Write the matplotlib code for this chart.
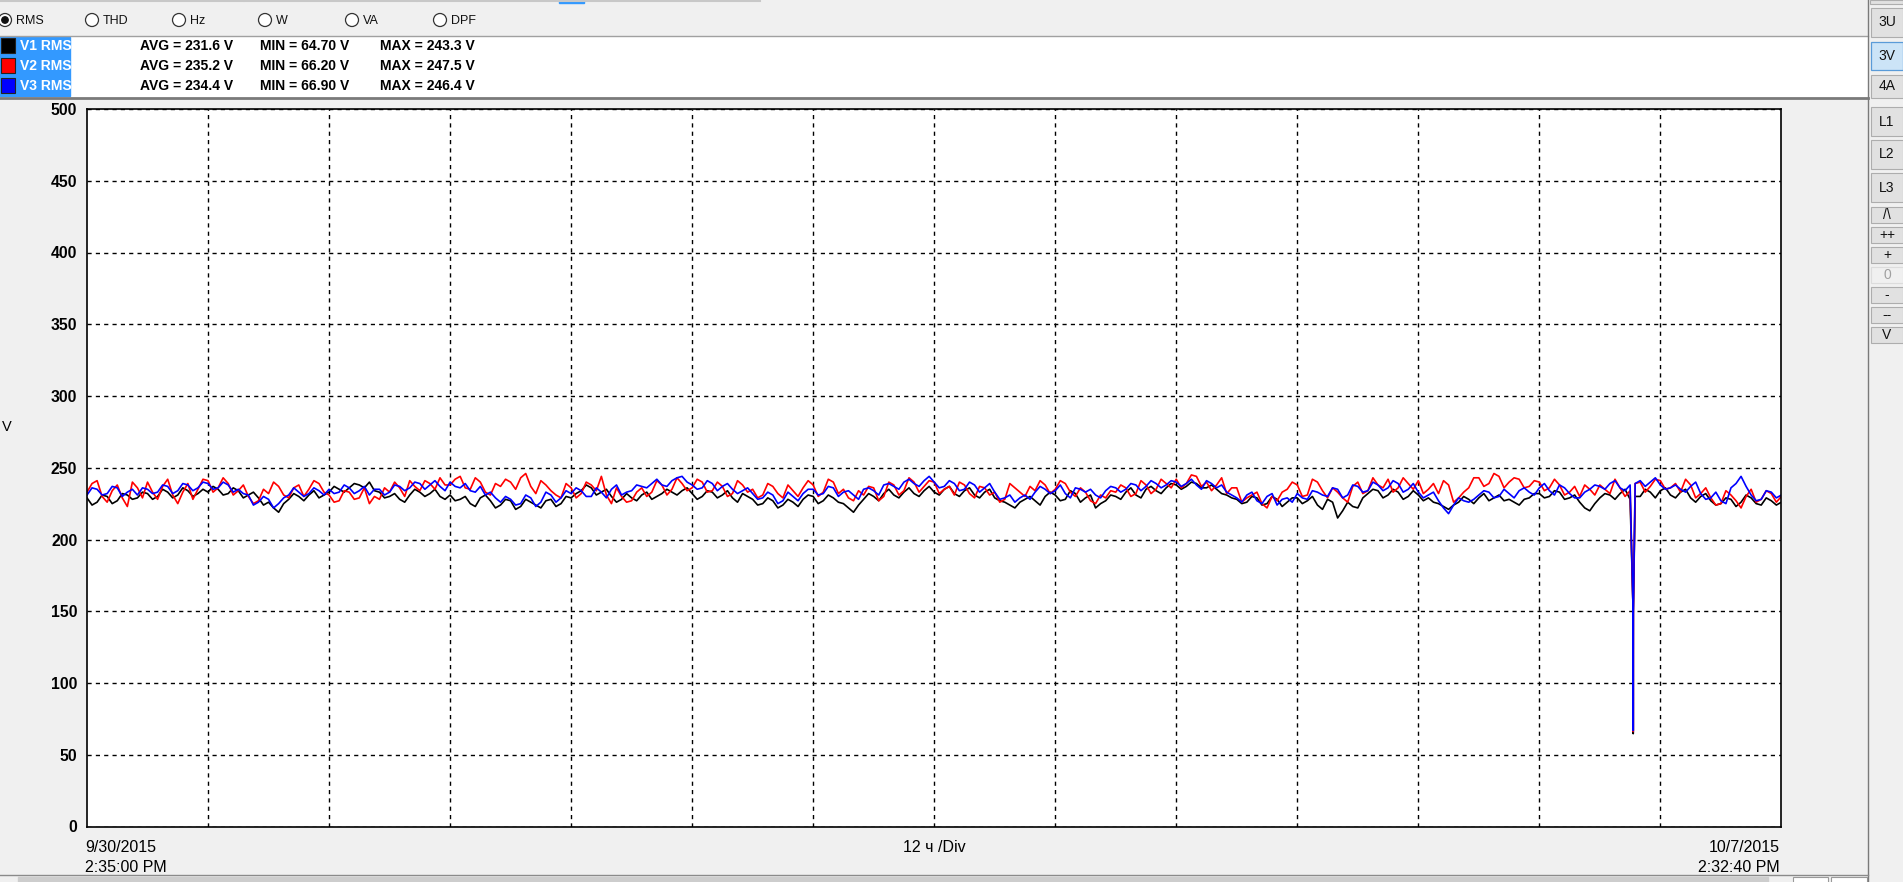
import matplotlib
matplotlib.use('Agg')
import matplotlib.pyplot as plt
import numpy as np
from matplotlib.patches import Rectangle, Circle

plt.rcParams['font.family'] = ['Liberation Sans', 'DejaVu Sans']

### Data ###
# samples every half hour, hours since 9/30/2015 2:35:00 PM
span_h = 167.961  # until 10/7/2015 2:32:40 PM

# values on the full hour
v1_rms = [229, 226, 230, 227, 231, 229, 232, 230, 233, 231, 234, 232,
          233, 235, 232, 234, 231, 229, 226, 219, 228, 230, 231, 229,
          233, 235, 236, 238, 240, 233, 230, 228, 231, 233, 232, 230,
          231, 228, 225, 229, 227, 224, 227, 223, 226, 222, 228, 225,
          229, 234, 236, 233, 230, 228, 229, 231, 228, 232, 233, 234,
          232, 230, 233, 231, 229, 232, 228, 225, 227, 224, 226, 228,
          230, 227, 229, 225, 219, 228, 230, 232, 231, 233, 232, 234,
          233, 235, 232, 234, 231, 233, 229, 226, 222, 228, 227, 230,
          231, 228, 232, 229, 222, 227, 230, 233, 231, 235, 234, 236,
          238, 237, 239, 236, 235, 231, 228, 226, 229, 225, 228, 226,
          229, 227, 224, 228, 215, 226, 222, 232, 234, 231, 233, 230,
          231, 229, 225, 221, 226, 228, 229, 227, 231, 228, 224, 229,
          232, 230, 233, 229, 226, 220, 229, 231, 232, 228, 230, 233,
          234, 231, 233, 229, 230, 227, 225, 228, 226, 229, 224, 227, 226]
# values on the half hour
v1_mid = [224, 231, 225, 232, 228, 233, 228, 235, 229, 236, 230, 235,
          237, 231, 236, 229, 233, 224, 222, 225, 232, 227, 234, 231,
          237, 233, 239, 236, 234, 229, 232, 226, 235, 230, 235, 228,
          227, 230, 223, 231, 222, 228, 221, 228, 224, 227, 223, 230,
          232, 238, 231, 235, 226, 232, 227, 233, 230, 235, 231, 236,
          228, 234, 229, 234, 226, 230, 224, 229, 222, 228, 223, 231,
          225, 231, 226, 222, 224, 232, 227, 235, 229, 236, 230, 237,
          231, 237, 230, 236, 229, 235, 227, 224, 226, 230, 224, 233,
          227, 234, 226, 231, 225, 231, 228, 236, 229, 237, 232, 239,
          235, 240, 236, 238, 232, 229, 225, 230, 224, 230, 223, 229,
          225, 230, 221, 226, 220, 223, 229, 235, 229, 235, 228, 234,
          227, 226, 223, 224, 230, 225, 232, 229, 227, 226, 228, 232,
          229, 234, 228, 231, 222, 225, 232, 228, 235, 230, 235, 229,
          236, 229, 235, 226, 232, 224, 229, 223, 231, 225, 229, 224]

v2_rms = [233, 241, 226, 238, 223, 236, 240, 228, 242, 225, 239, 235,
          241, 236, 239, 234, 230, 227, 232, 237, 229, 238, 235, 239,
          231, 227, 233, 229, 225, 228, 233, 236, 241, 234, 239, 243,
          238, 244, 235, 240, 231, 237, 240, 243, 237, 241, 234, 229,
          236, 232, 238, 244, 225, 230, 227, 236, 233, 238, 235, 239,
          236, 240, 234, 237, 232, 238, 235, 231, 237, 229, 234, 236,
          238, 233, 240, 235, 227, 231, 236, 230, 238, 234, 240, 237,
          240, 235, 231, 238, 229, 236, 233, 228, 236, 230, 234, 238,
          235, 239, 230, 233, 225, 229, 233, 236, 232, 238, 235, 239,
          242, 239, 244, 240, 238, 232, 236, 229, 233, 222, 227, 235,
          238, 231, 240, 229, 233, 226, 240, 234, 238, 242, 236, 239,
          241, 235, 232, 238, 229, 236, 243, 239, 244, 240, 242, 237,
          240, 236, 238, 233, 230, 235, 238, 232, 236, 234, 240, 237,
          241, 236, 233, 238, 232, 229, 225, 231, 222, 235, 228, 232, 230]
v2_mid = [239, 230, 234, 229, 240, 229, 233, 237, 231, 233, 228, 242,
          233, 243, 231, 238, 225, 235, 240, 231, 236, 230, 241, 233,
          226, 234, 228, 236, 230, 236, 240, 230, 237, 241, 235, 238,
          242, 236, 243, 233, 239, 242, 235, 246, 232, 238, 231, 239,
          229, 240, 234, 231, 236, 226, 233, 230, 241, 231, 243, 234,
          242, 233, 240, 230, 241, 233, 229, 239, 232, 238, 230, 241,
          230, 242, 232, 229, 234, 237, 227, 240, 231, 243, 233, 241,
          232, 237, 240, 232, 237, 231, 226, 239, 233, 237, 241, 232,
          241, 233, 236, 227, 231, 234, 238, 230, 241, 232, 242, 236,
          236, 245, 237, 234, 243, 236, 226, 231, 225, 230, 233, 240,
          230, 242, 234, 236, 229, 237, 232, 243, 236, 233, 243, 235,
          232, 239, 241, 226, 233, 243, 237, 246, 236, 243, 236, 241,
          234, 242, 231, 237, 238, 231, 235, 242, 230, 239, 233, 242,
          235, 239, 242, 229, 236, 224, 234, 227, 230, 226, 234, 226]

v3_rms = [231, 235, 232, 236, 233, 231, 235, 233, 237, 234, 238, 236,
          239, 236, 238, 235, 231, 226, 228, 225, 231, 233, 232, 234,
          235, 233, 236, 234, 231, 235, 233, 237, 236, 239, 238, 237,
          240, 236, 234, 237, 233, 226, 228, 225, 229, 226, 231, 229,
          232, 234, 230, 233, 235, 231, 234, 237, 239, 238, 241, 244,
          238, 236, 239, 237, 235, 234, 232, 229, 231, 227, 230, 232,
          235, 232, 236, 233, 231, 235, 234, 238, 237, 240, 239, 241,
          240, 237, 239, 235, 238, 236, 233, 229, 226, 231, 233, 235,
          234, 232, 236, 233, 231, 234, 236, 235, 238, 237, 239, 238,
          240, 239, 238, 241, 236, 233, 229, 231, 227, 230, 224, 229,
          232, 228, 233, 230, 235, 231, 237, 234, 238, 236, 239, 235,
          233, 231, 227, 218, 229, 226, 231, 233, 230, 232, 234, 233,
          236, 234, 238, 232, 229, 235, 237, 239, 236, 238, 241, 240,
          238, 236, 235, 237, 232, 229, 227, 236, 244, 231, 228, 233, 231]
v3_mid = [236, 231, 237, 230, 235, 236, 232, 238, 232, 239, 234, 240,
          235, 240, 233, 232, 224, 230, 222, 229, 236, 230, 236, 231,
          232, 238, 232, 237, 235, 231, 238, 234, 240, 235, 241, 234,
          237, 239, 233, 231, 229, 230, 224, 231, 223, 233, 226, 234,
          236, 230, 236, 229, 238, 233, 238, 236, 242, 237, 243, 240,
          235, 241, 234, 239, 232, 236, 228, 233, 225, 233, 227, 235,
          231, 237, 230, 234, 228, 236, 231, 239, 235, 242, 237, 244,
          236, 241, 234, 240, 233, 239, 228, 231, 229, 228, 237, 232,
          238, 229, 235, 235, 229, 237, 233, 239, 234, 241, 236, 241,
          237, 242, 235, 239, 238, 231, 226, 233, 225, 232, 228, 226,
          229, 234, 231, 236, 229, 238, 233, 240, 234, 241, 233, 239,
          229, 233, 222, 224, 227, 228, 234, 229, 235, 229, 236, 231,
          239, 231, 236, 229, 233, 238, 235, 241, 234, 239, 237, 243,
          235, 238, 233, 240, 228, 233, 225, 239, 237, 227, 234, 229]

# voltage dip near 10/6
dip_t = [153.30, 153.31, 153.32]
v1_dip = [150, 64.7, 150]
v2_dip = [150, 66.2, 150]
v3_dip = [149, 66.9, 149]

names = ['V1 RMS', 'V2 RMS', 'V3 RMS']
colors = ['#000000', '#ff0000', '#0000ff']
avg_v = ['231.6', '235.2', '234.4']
min_v = ['64.70', '66.20', '66.90']
max_v = ['243.3', '247.5', '246.4']

y_ticks = [0, 50, 100, 150, 200, 250, 300, 350, 400, 450, 500]
radio_labels = ['RMS', 'THD', 'Hz', 'W', 'VA', 'DPF']
buttons = ['3U', '3V', '4A', 'L1', 'L2', 'L3', '/\\', '++', '+', '0', '-', '--', 'V']

### Figure ###
W, H = 1903, 882
fig = plt.figure(figsize=(W / 100, H / 100), dpi=100, facecolor='#f0f0f0')

# pixel canvas for the window chrome
bg = fig.add_axes([0, 0, 1, 1])
bg.set_xlim(0, W)
bg.set_ylim(H, 0)
bg.axis('off')

# top strip
for x0, x1 in [(0, 66), (68, 243), (245, 416), (418, 760)]:
    bg.plot([x0, x1], [1, 1], color='#c8c8c8', lw=1.5)
bg.add_patch(Rectangle((559, 0), 25, 2.5, color='#3399ff'))

# radio buttons
radio_x = [5, 92, 179, 265, 352, 440]
for i, lab in enumerate(radio_labels):
    bg.add_patch(Circle((radio_x[i], 20), 6.5, facecolor='white', edgecolor='#333333', lw=0.9))
    if i == 0:
        bg.add_patch(Circle((radio_x[i], 20), 3.2, color='#111111'))
    bg.text(radio_x[i] + 11, 20.5, lab, fontsize=9, va='center', ha='left', color='#111111')

# legend / stats box
bg.add_patch(Rectangle((0, 36), 1868, 62, facecolor='white', edgecolor='none'))
bg.plot([0, 1868], [35.5, 35.5], color='#a0a0a0', lw=1)
bg.plot([0, 1868], [98, 98], color='#7a7a7a', lw=2)
bg.add_patch(Rectangle((0, 37), 70, 59, color='#3399ff'))
row_y = [45.5, 65.5, 85.5]
for i in range(3):
    bg.add_patch(Rectangle((1, row_y[i] - 7.5), 14, 15, facecolor=colors[i], edgecolor='#222222', lw=0.8))
    bg.text(20, row_y[i], names[i], fontsize=10, fontweight='bold', color='white', va='center')
    bg.text(140, row_y[i], 'AVG = ' + avg_v[i] + ' V', fontsize=10, fontweight='bold', va='center')
    bg.text(260, row_y[i], 'MIN = ' + min_v[i] + ' V', fontsize=10, fontweight='bold', va='center')
    bg.text(380, row_y[i], 'MAX = ' + max_v[i] + ' V', fontsize=10, fontweight='bold', va='center')

# right button column
bg.plot([1868, 1868], [0, 882], color='#7a7a7a', lw=1)
btn_y = [(8, 37), (42, 70), (75, 98), (107, 136), (140, 169), (173, 202), (207, 223),
         (227, 243), (247, 263), (267, 283), (287, 303), (307, 323), (327, 343)]
bg.add_patch(Rectangle((1870, 0), 33, 4, facecolor='#e1e1e1', edgecolor='#adadad', lw=0.8))
for lab, (y0, y1) in zip(buttons, btn_y):
    if lab == '3V':
        bg.add_patch(Rectangle((1871, y0), 32, y1 - y0, facecolor='#cce4f7', edgecolor='#5a9bd8', lw=0.9))
    elif lab == '0':
        bg.add_patch(Rectangle((1871, y0), 32, y1 - y0, facecolor='#f0f0f0', edgecolor='#dcdcdc', lw=0.8))
    else:
        bg.add_patch(Rectangle((1871, y0), 32, y1 - y0, facecolor='#e1e1e1', edgecolor='#adadad', lw=0.8))
    bg.text(1887, (y0 + y1) / 2, lab, fontsize=10, ha='center', va='center',
            color='#a0a0a0' if lab == '0' else '#111111')

# bottom bar
bg.plot([0, 1868], [875, 875], color='#8a8a8a', lw=1)
bg.add_patch(Rectangle((18, 877), 1750, 6, color='#cdcdcd'))
bg.add_patch(Rectangle((1793, 877), 35, 6, facecolor='white', edgecolor='#9a9a9a', lw=0.8))
bg.add_patch(Rectangle((1831, 877), 36, 6, facecolor='white', edgecolor='#9a9a9a', lw=0.8))

# x labels and units
bg.text(85, 848, '9/30/2015', fontsize=11.5, va='center', ha='left')
bg.text(85, 868, '2:35:00 PM', fontsize=11.5, va='center', ha='left')
bg.text(1780, 848, '10/7/2015', fontsize=11.5, va='center', ha='right')
bg.text(1780, 868, '2:32:40 PM', fontsize=11.5, va='center', ha='right')
bg.text(934, 848, '12 ч /Div', fontsize=11.5, va='center', ha='center')
bg.text(2, 427, 'V', fontsize=10.5, va='center', ha='left')

### Plot ###
ax = fig.add_axes([87 / W, (H - 826.5) / H, 1694 / W, 717.5 / H])
ax.set_facecolor('white')

hours = np.arange(len(v1_rms), dtype=float)
half = hours[:-1] + 0.5
series = [(v1_rms, v1_mid, v1_dip, colors[0]),
          (v2_rms, v2_mid, v2_dip, colors[1]),
          (v3_rms, v3_mid, v3_dip, colors[2])]
for full, mid, dip, col in series:
    t = np.concatenate([hours, half, dip_t])
    v = np.concatenate([full, mid, dip])
    order = np.argsort(t)
    ax.plot(t[order], v[order], color=col, lw=1.2)

ax.set_xlim(0, span_h)
ax.set_ylim(0, 500)
ax.set_xticks(np.arange(12, 168, 12))
ax.set_xticklabels([])
ax.set_yticks(y_ticks)
ax.set_yticklabels([str(v) for v in y_ticks], fontsize=11.3, fontweight='bold')
ax.tick_params(length=0, pad=7)
ax.grid(True, color='black', linestyle=(0, (3, 3)), lw=1)
for s in ax.spines.values():
    s.set_color('black')
    s.set_linewidth(1.2)

plt.savefig('out.png', dpi=100, facecolor=fig.get_facecolor())
